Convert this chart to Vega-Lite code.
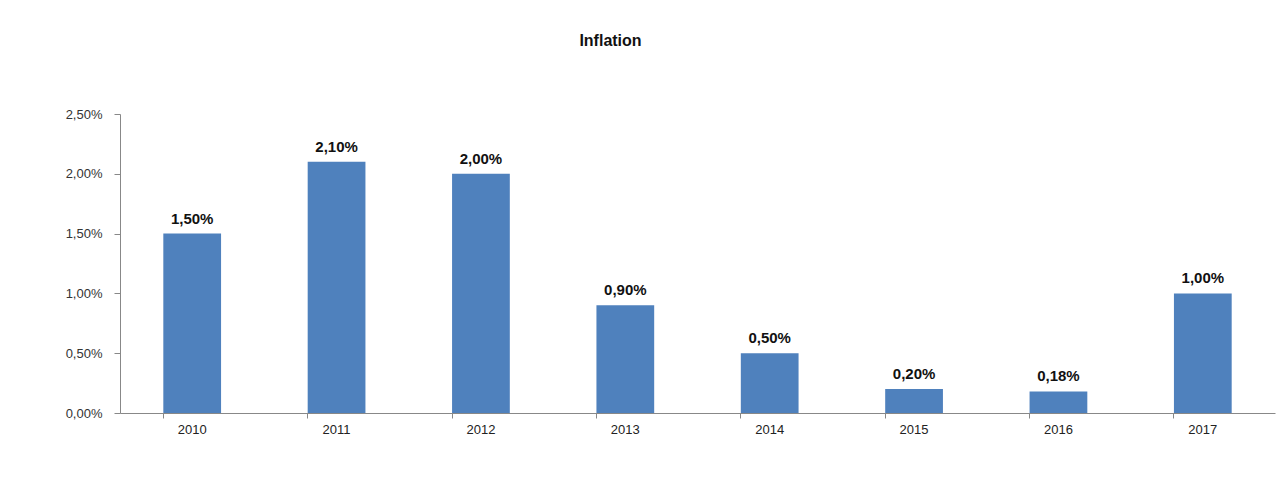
{
  "$schema": "https://vega.github.io/schema/vega-lite/v6.json",
  "width": 1155,
  "height": 299,
  "autosize": {"type": "none"},
  "padding": {"left": 120, "top": 114, "right": 4, "bottom": 73},
  "background": "white",
  "config": {
    "locale": {"number": {"decimal": ",", "thousands": ".", "grouping": [3], "currency": ["", " €"]}},
    "view": {"stroke": null},
    "font": "Liberation Sans"
  },
  "title": {
    "text": "Inflation",
    "fontSize": 16,
    "fontWeight": "bold",
    "font": "Liberation Sans",
    "color": "#111111",
    "anchor": "middle",
    "dx": -87,
    "offset": 59
  },
  "data": {
    "values": [
      {"year": "2010", "inflation": 0.015},
      {"year": "2011", "inflation": 0.021},
      {"year": "2012", "inflation": 0.020},
      {"year": "2013", "inflation": 0.009},
      {"year": "2014", "inflation": 0.005},
      {"year": "2015", "inflation": 0.002},
      {"year": "2016", "inflation": 0.0018},
      {"year": "2017", "inflation": 0.010}
    ]
  },
  "encoding": {
    "x": {
      "field": "year",
      "type": "ordinal",
      "title": null,
      "scale": {"paddingInner": 0.6, "paddingOuter": 0.3},
      "axis": {
        "labelAngle": 0,
        "labelFontSize": 13,
        "labelColor": "#222222",
        "labelPadding": 5,
        "domainColor": "#888888",
        "tickColor": "#888888",
        "tickSize": 5,
        "bandPosition": 0,
        "grid": false
      }
    },
    "y": {
      "field": "inflation",
      "type": "quantitative",
      "title": null,
      "scale": {"domain": [0, 0.025]},
      "axis": {
        "format": ".2%",
        "values": [0, 0.005, 0.01, 0.015, 0.02, 0.025],
        "labelFontSize": 13,
        "labelColor": "#333333",
        "labelPadding": 12,
        "domainColor": "#888888",
        "tickColor": "#888888",
        "tickSize": 6,
        "grid": false
      }
    }
  },
  "layer": [
    {"mark": {"type": "bar", "color": "#4F81BD"}},
    {
      "mark": {"type": "text", "baseline": "bottom", "dy": -7, "fontSize": 15, "fontWeight": "bold", "color": "#111111"},
      "encoding": {"text": {"field": "inflation", "type": "quantitative", "format": ".2%"}}
    }
  ]
}
